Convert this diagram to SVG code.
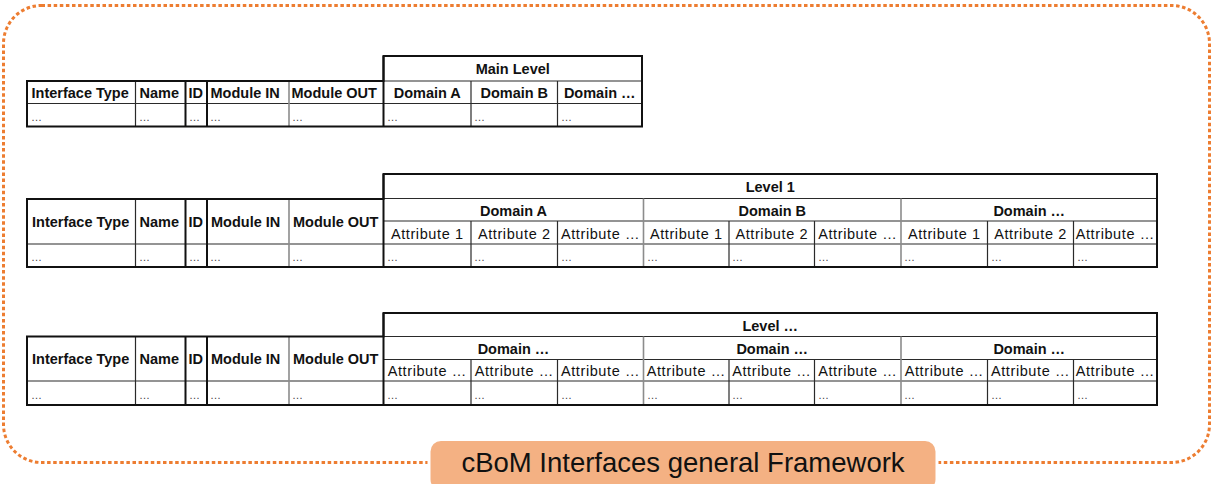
<svg xmlns="http://www.w3.org/2000/svg" width="1212" height="484" viewBox="0 0 1212 484">
  <style>
    .frame { fill: none; stroke: #ED7D31; stroke-width: 3; stroke-dasharray: 3.5 2.6; }
    .outer { fill: none; stroke: #111; stroke-width: 2; }
    .thick { fill: none; stroke: #111; stroke-width: 2; }
    .thin { fill: none; stroke: #2a2a2a; stroke-width: 1.2; }
    .grey { fill: none; stroke: #8c8c8c; stroke-width: 1.6; }
    .hd { font-family: "Liberation Sans", Arial, sans-serif; font-weight: bold; font-size: 14.5px; fill: #111; }
    .hdc { font-family: "Liberation Sans", Arial, sans-serif; font-weight: bold; font-size: 14.5px; fill: #111; text-anchor: middle; }
    .at { font-family: "Liberation Sans", Arial, sans-serif; font-size: 14.5px; letter-spacing: 0.6px; fill: #111; text-anchor: middle; }
    .dt { font-family: "Liberation Sans", Arial, sans-serif; font-size: 11px; fill: #444; }
    .cap { font-family: "Liberation Sans", Arial, sans-serif; font-size: 27.5px; fill: #111; text-anchor: middle; }
  </style>

  <rect width="1212" height="484" fill="#ffffff"/>

  <!-- dotted framework border -->
  <rect class="frame" x="3.5" y="5.5" width="1206" height="457" rx="38" ry="38"/>

  <!-- main level table -->
  <g id="table-main-level">
    <path class="thin" d="M27,103.5 H642 M383.5,81 H642 M135.5,81 V126.5 M471,81 V126.5 M557.5,81 V126.5"/>
    <path class="grey" d="M289,81 V126.5"/>
    <path class="thick" d="M185.5,81 V126.5 M207,81 V126.5 M383.5,56 V126.5"/>
    <path class="outer" d="M27,81 H383.5 V56 H642 V126.5 H27 Z"/>
    <text class="hdc" x="512.75" y="74">Main Level</text>
    <text class="hd" x="31.5" y="97.5">Interface Type</text>
    <text class="hd" x="139.5" y="97.5">Name</text>
    <text class="hd" x="188.5" y="97.5">ID</text>
    <text class="hd" x="210.5" y="97.5">Module IN</text>
    <text class="hd" x="291.5" y="97.5">Module OUT</text>
    <text class="hdc" x="427.25" y="97.5">Domain A</text>
    <text class="hdc" x="514.25" y="97.5">Domain B</text>
    <text class="hdc" x="599.75" y="97.5">Domain …</text>
    <text class="dt" x="31" y="121">…</text>
    <text class="dt" x="139" y="121">…</text>
    <text class="dt" x="189" y="121">…</text>
    <text class="dt" x="210" y="121">…</text>
    <text class="dt" x="292" y="121">…</text>
    <text class="dt" x="387" y="121">…</text>
    <text class="dt" x="474" y="121">…</text>
    <text class="dt" x="561" y="121">…</text>
  </g>

  <!-- level 1 table -->
  <g id="table-level-1">
    <path class="thin" d="M383.5,198.5 H1157 M383.5,221 H1157 M27,244 H1157 M135.5,199 V267 M471,221 V267 M557.5,221 V267 M729,221 V267 M814.5,221 V267 M987.5,221 V267 M1073.5,221 V267"/>
    <path class="grey" d="M289,199 V267 M643.5,198.5 V267 M901,198.5 V267"/>
    <path class="thick" d="M185.5,199 V267 M207,199 V267 M383.5,174 V267"/>
    <path class="outer" d="M27,199 H383.5 V174 H1157 V267 H27 Z"/>
    <text class="hdc" x="770.25" y="191.5">Level 1</text>
    <text class="hd" x="32" y="227">Interface Type</text>
    <text class="hd" x="139.5" y="227">Name</text>
    <text class="hd" x="188.5" y="227">ID</text>
    <text class="hd" x="211" y="227">Module IN</text>
    <text class="hd" x="293" y="227">Module OUT</text>
    <text class="hdc" x="513.5" y="215.5">Domain A</text>
    <text class="hdc" x="772.25" y="215.5">Domain B</text>
    <text class="hdc" x="1029.25" y="215.5">Domain …</text>
    <text class="at" x="427.25" y="238.5">Attribute 1</text>
    <text class="at" x="514.25" y="238.5">Attribute 2</text>
    <text class="at" x="600.5" y="238.5">Attribute …</text>
    <text class="at" x="686.25" y="238.5">Attribute 1</text>
    <text class="at" x="771.75" y="238.5">Attribute 2</text>
    <text class="at" x="857.75" y="238.5">Attribute …</text>
    <text class="at" x="944.25" y="238.5">Attribute 1</text>
    <text class="at" x="1030.5" y="238.5">Attribute 2</text>
    <text class="at" x="1115.25" y="238.5">Attribute …</text>
    <text class="dt" x="31" y="261">…</text>
    <text class="dt" x="139" y="261">…</text>
    <text class="dt" x="189" y="261">…</text>
    <text class="dt" x="210" y="261">…</text>
    <text class="dt" x="292" y="261">…</text>
    <text class="dt" x="387" y="261">…</text>
    <text class="dt" x="474" y="261">…</text>
    <text class="dt" x="561" y="261">…</text>
    <text class="dt" x="647" y="261">…</text>
    <text class="dt" x="732" y="261">…</text>
    <text class="dt" x="818" y="261">…</text>
    <text class="dt" x="904" y="261">…</text>
    <text class="dt" x="991" y="261">…</text>
    <text class="dt" x="1077" y="261">…</text>
  </g>

  <!-- further level table -->
  <g id="table-level-n">
    <path class="thin" d="M383.5,336.5 H1157 M383.5,359.5 H1157 M27,381 H1157 M135.5,336.5 V405 M471,359.5 V405 M557.5,359.5 V405 M729,359.5 V405 M814.5,359.5 V405 M987.5,359.5 V405 M1073.5,359.5 V405"/>
    <path class="grey" d="M289,336.5 V405 M643.5,336.5 V405 M901,336.5 V405"/>
    <path class="thick" d="M185.5,336.5 V405 M207,336.5 V405 M383.5,313 V405"/>
    <path class="outer" d="M27,336.5 H383.5 V313 H1157 V405 H27 Z"/>
    <text class="hdc" x="770.25" y="331">Level …</text>
    <text class="hd" x="32" y="364">Interface Type</text>
    <text class="hd" x="139.5" y="364">Name</text>
    <text class="hd" x="188.5" y="364">ID</text>
    <text class="hd" x="211" y="364">Module IN</text>
    <text class="hd" x="293" y="364">Module OUT</text>
    <text class="hdc" x="513.5" y="353.5">Domain …</text>
    <text class="hdc" x="772.25" y="353.5">Domain …</text>
    <text class="hdc" x="1029.25" y="353.5">Domain …</text>
    <text class="at" x="427.25" y="375.5">Attribute …</text>
    <text class="at" x="514.25" y="375.5">Attribute …</text>
    <text class="at" x="600.5" y="375.5">Attribute …</text>
    <text class="at" x="686.25" y="375.5">Attribute …</text>
    <text class="at" x="771.75" y="375.5">Attribute …</text>
    <text class="at" x="857.75" y="375.5">Attribute …</text>
    <text class="at" x="944.25" y="375.5">Attribute …</text>
    <text class="at" x="1030.5" y="375.5">Attribute …</text>
    <text class="at" x="1115.25" y="375.5">Attribute …</text>
    <text class="dt" x="31" y="399">…</text>
    <text class="dt" x="139" y="399">…</text>
    <text class="dt" x="189" y="399">…</text>
    <text class="dt" x="210" y="399">…</text>
    <text class="dt" x="292" y="399">…</text>
    <text class="dt" x="387" y="399">…</text>
    <text class="dt" x="474" y="399">…</text>
    <text class="dt" x="561" y="399">…</text>
    <text class="dt" x="647" y="399">…</text>
    <text class="dt" x="732" y="399">…</text>
    <text class="dt" x="818" y="399">…</text>
    <text class="dt" x="904" y="399">…</text>
    <text class="dt" x="991" y="399">…</text>
    <text class="dt" x="1077" y="399">…</text>
  </g>

  <!-- framework caption -->
  <g id="caption">
    <rect x="429" y="439.5" width="508" height="52" rx="12" ry="12" fill="#F4B183" stroke="#ffffff" stroke-width="3"/>
    <text class="cap" x="683" y="472">cBoM Interfaces general Framework</text>
  </g>
</svg>
